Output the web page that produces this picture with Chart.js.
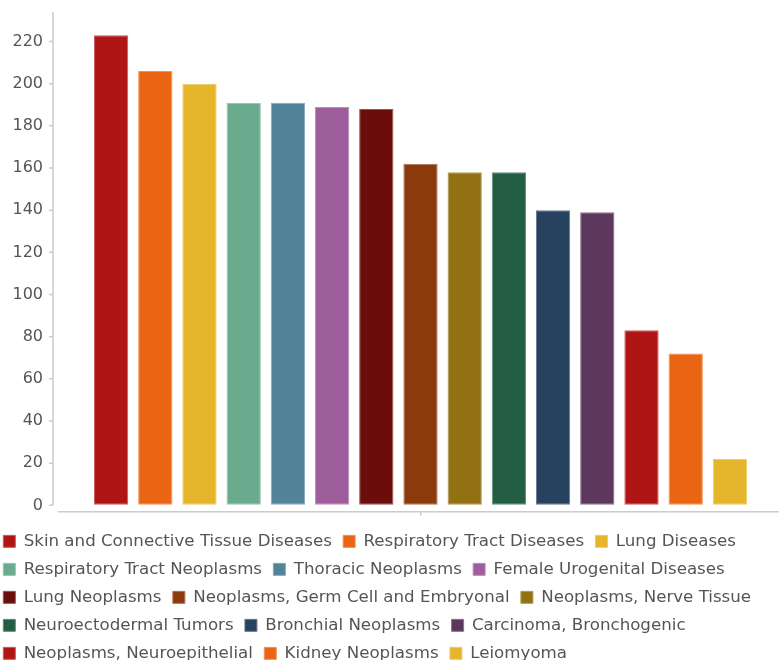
<!doctype html>
<html lang="en">
<head>
<meta charset="utf-8">
<title>Disease counts</title>
<script src="https://cdn.jsdelivr.net/npm/chart.js@4.4.1/dist/chart.umd.min.js"></script>
<style>
  html, body { margin: 0; padding: 0; background: #fff; }
  #wrap { width: 779px; height: 660px; }
</style>
</head>
<body>
<div id="wrap"><canvas id="myChart" width="779" height="660"></canvas></div>
<script>
// data
var diseases = [
  "Skin and Connective Tissue Diseases", "Respiratory Tract Diseases", "Lung Diseases",
  "Respiratory Tract Neoplasms", "Thoracic Neoplasms", "Female Urogenital Diseases",
  "Lung Neoplasms", "Neoplasms, Germ Cell and Embryonal", "Neoplasms, Nerve Tissue",
  "Neuroectodermal Tumors", "Bronchial Neoplasms", "Carcinoma, Bronchogenic",
  "Neoplasms, Neuroepithelial", "Kidney Neoplasms", "Leiomyoma"
];
var counts = [223, 206, 200, 191, 191, 189, 188, 162, 158, 158, 140, 139, 83, 72, 22];
var yTicks = [0, 20, 40, 60, 80, 100, 120, 140, 160, 180, 200, 220];

var colors = [
  "#b01515", "#e96413", "#e5b52b", "#6aab8e", "#528399", "#9e5e9b",
  "#6b0d0b", "#8b3a0c", "#917112", "#235d44", "#26425e", "#5d375c",
  "#b01515", "#e96413", "#e5b52b"
];

function lighten(hex, amt) {
  var n = parseInt(hex.slice(1), 16);
  var r = (n >> 16) & 255, g = (n >> 8) & 255, b = n & 255;
  r = Math.round(r + (255 - r) * amt);
  g = Math.round(g + (255 - g) * amt);
  b = Math.round(b + (255 - b) * amt);
  return "rgb(" + r + "," + g + "," + b + ")";
}

var datasets = diseases.map(function (name, i) {
  return {
    label: name,
    data: [counts[i]],
    backgroundColor: colors[i],
    borderColor: lighten(colors[i], 0.3),
    borderWidth: 1,
    borderSkipped: false,
    categoryPercentage: 0.9247,
    barPercentage: 0.776
  };
});

// axis lines drawn apart from each other like the original
var axisLines = {
  id: "axisLines",
  afterDraw: function (chart) {
    var y = chart.scales.y, ctx = chart.ctx, area = chart.chartArea;
    var x = y.right - 9;
    ctx.save();
    ctx.strokeStyle = "#cccccc";
    ctx.lineWidth = 1.5;
    ctx.beginPath();
    ctx.moveTo(x, area.top);
    ctx.lineTo(x, y.getPixelForValue(0));
    yTicks.forEach(function (v) {
      var py = y.getPixelForValue(v);
      ctx.moveTo(x - 4, py);
      ctx.lineTo(x, py);
    });
    ctx.moveTo(x + 5, area.bottom);
    ctx.lineTo(area.right, area.bottom);
    ctx.stroke();
    ctx.restore();
  }
};

var ctx = document.getElementById("myChart").getContext("2d");
new Chart(ctx, {
  type: "bar",
  data: { labels: [""], datasets: datasets },
  plugins: [axisLines],
  options: {
    responsive: false,
    animation: false,
    layout: { padding: { left: -8, right: 0, top: 12, bottom: -11.7 } },
    scales: {
      x: {
        ticks: { display: false },
        grid: { drawOnChartArea: false, offset: false, tickLength: 4, color: "#cccccc", lineWidth: 1.5 },
        border: { display: false },
        afterFit: function (s) { s.height = 10; }
      },
      y: {
        min: -3,
        max: 234,
        // transparent tick marks only to push the labels off the axis
        grid: { display: true, drawOnChartArea: false, tickLength: 19, color: "rgba(0,0,0,0)" },
        border: { display: false },
        ticks: { padding: 0, color: "#555555", font: { size: 16, family: "'DejaVu Sans', sans-serif" } },
        afterBuildTicks: function (s) { s.ticks = yTicks.map(function (v) { return { value: v }; }); },
        afterFit: function (s) { s.width = 70; }
      }
    },
    plugins: {
      tooltip: { enabled: false },
      legend: {
        position: "bottom",
        align: "start",
        labels: {
          boxWidth: 12,
          boxHeight: 12,
          padding: 11.33,
          color: "#555555",
          font: { size: 16.67, family: "'DejaVu Sans', sans-serif" }
        }
      }
    }
  }
});
</script>
</body>
</html>
